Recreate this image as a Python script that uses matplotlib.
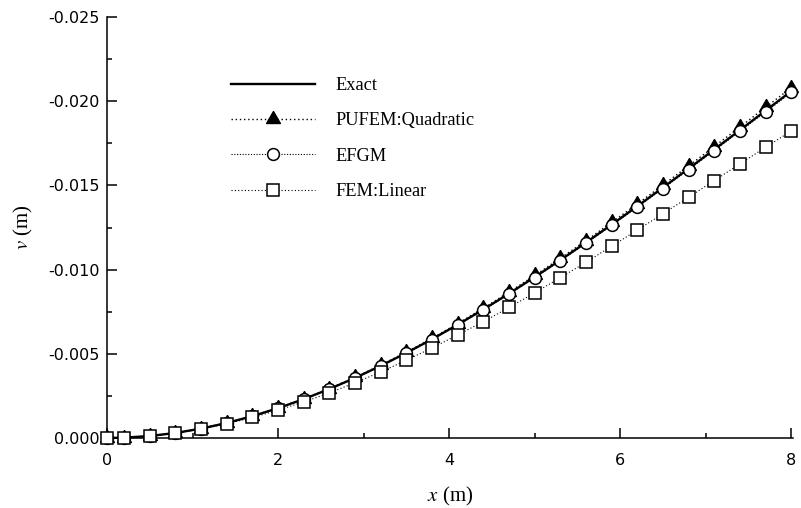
import numpy as np
import matplotlib
matplotlib.use("Agg")
import matplotlib.pyplot as plt
from matplotlib.ticker import MultipleLocator, FuncFormatter

plt.rcParams["mathtext.fontset"] = "stix"

# data
x = [0.0, 0.2, 0.5, 0.8, 1.1, 1.4, 1.7, 2.0, 2.3, 2.6, 2.9, 3.2, 3.5, 3.8,
     4.1, 4.4, 4.7, 5.0, 5.3, 5.6, 5.9, 6.2, 6.5, 6.8, 7.1, 7.4, 7.7, 8.0]

v_exact = [0.0, -0.0000192, -0.000118, -0.000299, -0.000557, -0.000891, -0.001297,
           -0.001770, -0.002309, -0.002910, -0.003570, -0.004285, -0.005052, -0.005868,
           -0.006730, -0.007634, -0.008577, -0.009556, -0.010567, -0.011608, -0.012675,
           -0.013765, -0.014874, -0.016000, -0.017138, -0.018287, -0.019442, -0.020600]

v_pufem = [0.0, -0.0000194, -0.000119, -0.000302, -0.000563, -0.000900, -0.001309,
           -0.001788, -0.002332, -0.002939, -0.003605, -0.004328, -0.005102, -0.005927,
           -0.006797, -0.007710, -0.008662, -0.009651, -0.010673, -0.011724, -0.012802,
           -0.013902, -0.015023, -0.016160, -0.017310, -0.018470, -0.019636, -0.020806]

v_efgm = [0.0, -0.0000191, -0.000118, -0.000298, -0.000555, -0.000888, -0.001291,
          -0.001763, -0.002300, -0.002899, -0.003555, -0.004268, -0.005032, -0.005845,
          -0.006703, -0.007603, -0.008542, -0.009517, -0.010525, -0.011562, -0.012624,
          -0.013710, -0.014815, -0.015936, -0.017070, -0.018214, -0.019364, -0.020518]

v_fem = [0.0, -0.0000185, -0.000113, -0.000285, -0.000530, -0.000843, -0.001220,
         -0.001650, -0.002140, -0.002680, -0.003280, -0.003920, -0.004620, -0.005350,
         -0.006120, -0.006910, -0.007750, -0.008620, -0.009520, -0.010440, -0.011390,
         -0.012350, -0.013320, -0.014300, -0.015290, -0.016280, -0.017270, -0.018230]

serif = "Liberation Serif"

fig = plt.figure(figsize=(8.01, 5.08), dpi=100)
ax = fig.add_axes([0.1336, 0.1378, 0.8564, 0.8287])

# triangle with its centroid on the data point
tri = [(0, 1), (-0.866, -0.5), (0.866, -0.5), (0, 1)]

ax.plot(x, v_pufem, color="black", linestyle=(0, (1, 2)), linewidth=1.0,
        marker=tri, markersize=11.5, markerfacecolor="black",
        markeredgecolor="black", label="PUFEM:Quadratic", zorder=3, clip_on=False)
ax.plot(x, v_exact, color="black", linestyle="-", linewidth=1.7,
        label="Exact", zorder=4, clip_on=False)
ax.plot(x, v_efgm, color="black", linestyle=(0, (1, 1.5)), linewidth=0.8,
        marker="o", markersize=8.5, markerfacecolor="white",
        markeredgecolor="black", markeredgewidth=1.1, label="EFGM", zorder=5,
        clip_on=False)
ax.plot(x, v_fem, color="black", linestyle=(0, (1, 2)), linewidth=0.8,
        marker="s", markersize=8, markerfacecolor="white",
        markeredgecolor="black", markeredgewidth=1.1, label="FEM:Linear", zorder=6,
        clip_on=False)

ax.set_xlim(0, 8.02)
ax.set_ylim(0, -0.025)

ax.spines["top"].set_visible(False)
ax.spines["right"].set_visible(False)
ax.spines["left"].set_linewidth(1.1)
ax.spines["bottom"].set_linewidth(1.1)


def yfmt(val, pos):
    if abs(val) < 1e-9:
        val = 0.0
    return "%.3f" % val


ax.xaxis.set_major_locator(MultipleLocator(2))
ax.xaxis.set_minor_locator(MultipleLocator(1))
ax.yaxis.set_major_locator(MultipleLocator(0.005))
ax.yaxis.set_minor_locator(MultipleLocator(0.0025))
ax.yaxis.set_major_formatter(FuncFormatter(yfmt))
ax.xaxis.set_major_formatter(FuncFormatter(lambda val, pos: "%d" % round(val)))

ax.tick_params(which="both", direction="in", top=False, right=False, width=1.1)
ax.tick_params(which="major", length=7)
ax.tick_params(which="minor", length=3.5)
ax.tick_params(axis="x", which="major", pad=11, labelsize=11.5)
ax.tick_params(axis="y", which="major", pad=5, labelsize=11.5)
for lab in ax.get_xticklabels() + ax.get_yticklabels():
    lab.set_family("DejaVu Sans")

ax.set_xlabel("$x$ (m)", family=serif, fontsize=15, labelpad=12)
ax.set_ylabel("$v$ (m)", family=serif, fontsize=15, labelpad=10)

handles, labels = ax.get_legend_handles_labels()
order = [1, 0, 2, 3]
leg = ax.legend([handles[i] for i in order], [labels[i] for i in order],
                loc="upper left", bbox_to_anchor=(0.17, 0.875), frameon=False,
                prop={"family": serif, "size": 13.2}, handlelength=4.6,
                handletextpad=1.1, labelspacing=1.0, borderaxespad=0)

fig.savefig("out.png", dpi=100)
